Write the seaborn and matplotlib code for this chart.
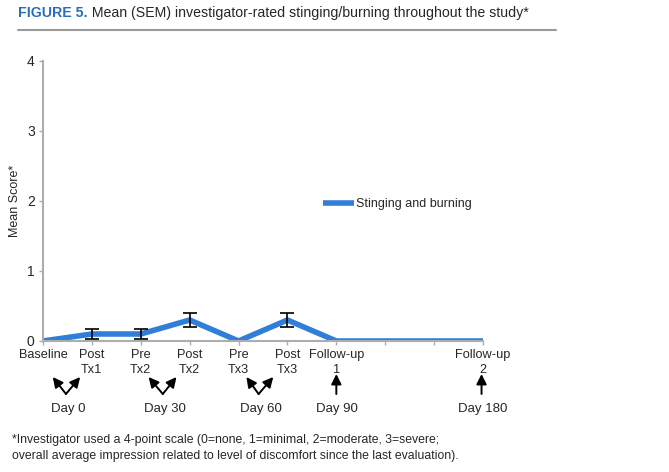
import numpy as np
import pandas as pd
import matplotlib
matplotlib.use("Agg")
import matplotlib.pyplot as plt
import matplotlib.transforms as mtransforms
import seaborn as sns

# ── Data ──────────────────────────────────────────────────────────────────────
visits = ["Baseline", "Post\nTx1", "Pre\nTx2", "Post\nTx2", "Pre\nTx3",
          "Post\nTx3", "Follow-up\n1", "", "", "Follow-up\n2"]
mean_score = [0.0, 0.1, 0.1, 0.3, 0.0, 0.3, 0.0, 0.0, 0.0, 0.0]
sem = [0.0, 0.07, 0.07, 0.1, 0.0, 0.1, 0.0, 0.0, 0.0, 0.0]
days = ["Day 0", "Day 30", "Day 60", "Day 90", "Day 180"]

df = pd.DataFrame({"pos": np.arange(len(visits)), "score": mean_score, "sem": sem})

BLUE = "#2F7ED8"
GREY = "#A9AEB1"

sns.set_style("white")
plt.rcParams["font.family"] = ["Liberation Sans", "DejaVu Sans"]

fig = plt.figure(figsize=(6.69, 4.72), dpi=100)
ax = fig.add_axes([43 / 669, 1 - 341 / 472, 440 / 669, 280 / 472])

sns.lineplot(data=df, x="pos", y="score", color=BLUE, linewidth=4,
             label="Stinging and burning", ax=ax, solid_capstyle="butt")
err = df[df["sem"] > 0]
ax.errorbar(err["pos"], err["score"], yerr=err["sem"], fmt="none",
            ecolor="black", elinewidth=1.2, capsize=5, capthick=1.2, zorder=3)

ax.set_xlim(0, len(visits) - 1)
ax.set_ylim(0, 4)
ax.set_xticks(df["pos"])
ax.set_xticklabels(visits, fontsize=9.2, linespacing=1.25)
ax.set_yticks([0, 1, 2, 3, 4])
ax.set_yticklabels(["0", "1", "2", "3", "4"], fontsize=10)
ax.set_xlabel("")
ax.set_ylabel("Mean Score*", fontsize=9, labelpad=4)
ax.tick_params(axis="both", length=3, width=1, color=GREY, pad=3, direction="out")
ax.tick_params(axis="y", pad=3)
for side in ["top", "right"]:
    ax.spines[side].set_visible(False)
for side in ["left", "bottom"]:
    ax.spines[side].set_color(GREY)
    ax.spines[side].set_linewidth(1.5)
ax.yaxis.set_ticks_position("left")
ax.xaxis.set_ticks_position("bottom")

ax.legend(loc="center left", bbox_to_anchor=(323 / 669, 1 - 204 / 472),
          bbox_transform=fig.transFigure, frameon=False, fontsize=9,
          handlelength=2.5, handletextpad=0.15, borderaxespad=0, borderpad=0)

# ── Day arrows under the axis ─────────────────────────────────────────────────
trans = mtransforms.blended_transform_factory(ax.transData, fig.transFigure)
y_tip, y_base, y_txt = 1 - 377 / 472, 1 - 394 / 472, 1 - 409 / 472
pairs = [(0.47, 0.2, 0.76), (2.45, 2.16, 2.73), (4.41, 4.16, 4.71)]
arrow = dict(arrowstyle="-|>,head_length=0.6,head_width=0.3",
             color="black", lw=1.4, shrinkA=0, shrinkB=0)
for (vx, lx, rx), lab in zip(pairs, days[:3]):
    for tx in (lx, rx):
        ax.annotate("", xy=(tx, y_tip), xytext=(vx, y_base), xycoords=trans,
                    textcoords=trans, annotation_clip=False, arrowprops=arrow)
    ax.text(vx + 0.04, y_txt, lab, transform=trans, ha="center", va="center", fontsize=9.5)
for vx, lab in [(6.0, days[3]), (8.97, days[4])]:
    ax.annotate("", xy=(vx, 1 - 374 / 472), xytext=(vx, y_base), xycoords=trans,
                textcoords=trans, annotation_clip=False, arrowprops=arrow)
    ax.text(vx + 0.02, y_txt, lab, transform=trans, ha="center", va="center", fontsize=9.5)

# ── Title, rule and footnote ──────────────────────────────────────────────────
t1 = fig.text(18 / 669, 1 - 13 / 472, "FIGURE 5.", color="#2A6EBB", fontweight="bold",
              fontsize=10.2, va="center", ha="left")
ax.annotate(" Mean (SEM) investigator-rated stinging/burning throughout the study*",
            xy=(1, 0), xycoords=t1, va="bottom", ha="left", fontsize=10.2,
            annotation_clip=False)
fig.add_artist(plt.Line2D([18 / 669, 556 / 669], [1 - 30 / 472, 1 - 30 / 472],
                          color="#9A9A9A", lw=1.5, transform=fig.transFigure))
fig.text(12 / 669, 1 - 440 / 472,
         "*Investigator used a 4-point scale (0=none, 1=minimal, 2=moderate, 3=severe;",
         fontsize=8.8, va="center", ha="left")
fig.text(12 / 669, 1 - 456 / 472,
         "overall average impression related to level of discomfort since the last evaluation).",
         fontsize=8.8, va="center", ha="left")

fig.savefig("out.png", dpi=100)
